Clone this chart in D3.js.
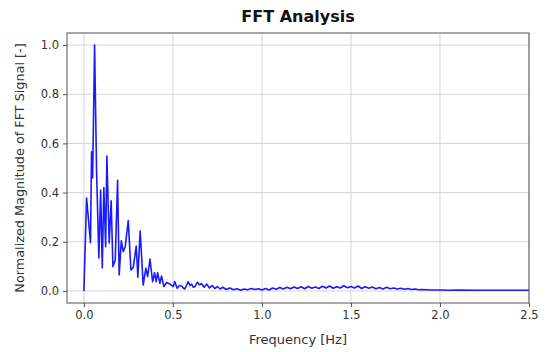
<!DOCTYPE html>
<meta charset="utf-8">
<style>
body { margin: 0; background: #fff; }
text { font-family: "DejaVu Sans", sans-serif; }
.grid line { stroke: #d4d4d4; stroke-width: 1; }
.axis path { display: none; }
.axis line { stroke: #555; }
.axis text { font-size: 11.5px; fill: #333; }
</style>
<body>
<script src="https://cdnjs.cloudflare.com/ajax/libs/d3/7.8.5/d3.min.js"></script>
<script>

// frequency [Hz] and normalized FFT magnitude
var freq = [0.000, 0.015, 0.037, 0.043, 0.049, 0.060, 0.071, 0.084, 0.094, 0.103,
            0.112, 0.122, 0.129, 0.142, 0.153, 0.163, 0.176, 0.189, 0.198, 0.210,
            0.221, 0.232, 0.249, 0.264, 0.277, 0.294, 0.303, 0.316, 0.333, 0.348,
            0.358, 0.371, 0.386, 0.397, 0.406, 0.414, 0.427, 0.436, 0.449, 0.464,
            0.483, 0.502, 0.510, 0.524, 0.537, 0.549, 0.558, 0.567, 0.586, 0.596,
            0.605, 0.614, 0.624, 0.637, 0.650, 0.660, 0.675, 0.690, 0.705, 0.720,
            0.735, 0.750, 0.765, 0.780, 0.800, 0.820, 0.840, 0.860, 0.880, 0.900,
            0.920, 0.940, 0.960, 0.980, 1.000, 1.020, 1.040, 1.060, 1.080, 1.100,
            1.120, 1.140, 1.160, 1.180, 1.200, 1.220, 1.240, 1.260, 1.280, 1.300,
            1.320, 1.340, 1.360, 1.380, 1.400, 1.420, 1.440, 1.460, 1.480, 1.500,
            1.520, 1.540, 1.560, 1.580, 1.600, 1.620, 1.640, 1.660, 1.680, 1.700,
            1.720, 1.740, 1.760, 1.780, 1.800, 1.820, 1.840, 1.860, 1.880, 1.900,
            1.950, 2.000, 2.050, 2.100, 2.200, 2.300, 2.400, 2.500];

var magnitude = [0.000, 0.378, 0.196, 0.566, 0.460, 1.000, 0.490, 0.134, 0.410, 0.094,
                 0.420, 0.180, 0.549, 0.195, 0.367, 0.099, 0.126, 0.450, 0.065, 0.204,
                 0.160, 0.180, 0.286, 0.085, 0.096, 0.183, 0.056, 0.244, 0.024, 0.093,
                 0.058, 0.130, 0.038, 0.074, 0.038, 0.074, 0.031, 0.061, 0.018, 0.034,
                 0.028, 0.018, 0.038, 0.011, 0.022, 0.020, 0.012, 0.008, 0.038, 0.022,
                 0.028, 0.015, 0.018, 0.035, 0.025, 0.030, 0.015, 0.028, 0.012, 0.022,
                 0.010, 0.018, 0.008, 0.015, 0.006, 0.012, 0.005, 0.009, 0.003, 0.008,
                 0.005, 0.010, 0.006, 0.009, 0.004, 0.010, 0.004, 0.012, 0.007, 0.014,
                 0.008, 0.015, 0.009, 0.016, 0.010, 0.017, 0.009, 0.018, 0.011, 0.016,
                 0.010, 0.019, 0.012, 0.020, 0.011, 0.017, 0.012, 0.021, 0.013, 0.018,
                 0.012, 0.020, 0.010, 0.017, 0.011, 0.016, 0.009, 0.014, 0.008, 0.015,
                 0.009, 0.012, 0.008, 0.011, 0.007, 0.010, 0.006, 0.008, 0.005, 0.006,
                 0.004, 0.004, 0.003, 0.004, 0.003, 0.003, 0.003, 0.003];

var xTicks = [0.0, 0.5, 1.0, 1.5, 2.0, 2.5];
var yTicks = [0.0, 0.2, 0.4, 0.6, 0.8, 1.0];

var W = 546, H = 352;
var plot = {left: 67, right: 529, top: 33, bottom: 303};

var svg = d3.select("body").append("svg")
    .attr("width", W)
    .attr("height", H);

var x = d3.scaleLinear().domain([-0.095, 2.5]).range([plot.left, plot.right]);
var y = d3.scaleLinear().domain([-0.049, 1.049]).range([plot.bottom, plot.top]);

// grid
svg.append("g").attr("class", "grid")
  .selectAll("line").data(xTicks).enter().append("line")
    .attr("x1", d => x(d)).attr("x2", d => x(d))
    .attr("y1", plot.top).attr("y2", plot.bottom);
svg.append("g").attr("class", "grid")
  .selectAll("line").data(yTicks).enter().append("line")
    .attr("x1", plot.left).attr("x2", plot.right)
    .attr("y1", d => y(d)).attr("y2", d => y(d));

// the line
var pts = freq.map((f, i) => [f, magnitude[i]]);
svg.append("path")
    .datum(pts)
    .attr("fill", "none")
    .attr("stroke", "#1a1aff")
    .attr("stroke-width", 1.6)
    .attr("stroke-linejoin", "round")
    .attr("d", d3.line().x(d => x(d[0])).y(d => y(d[1])));

// frame
svg.append("rect")
    .attr("x", plot.left).attr("y", plot.top)
    .attr("width", plot.right - plot.left)
    .attr("height", plot.bottom - plot.top)
    .attr("fill", "none")
    .attr("stroke", "#555")
    .attr("stroke-width", 1);

// axes
svg.append("g").attr("class", "axis")
    .attr("transform", "translate(0," + plot.bottom + ")")
    .call(d3.axisBottom(x).tickValues(xTicks).tickFormat(d3.format(".1f")).tickSize(4).tickPadding(4));
svg.append("g").attr("class", "axis")
    .attr("transform", "translate(" + plot.left + ",0)")
    .call(d3.axisLeft(y).tickValues(yTicks).tickFormat(d3.format(".1f")).tickSize(4).tickPadding(4));

// labels
svg.append("text")
    .attr("x", (plot.left + plot.right) / 2).attr("y", 22)
    .attr("text-anchor", "middle")
    .style("font-size", "16px").style("font-weight", "bold").style("fill", "#111")
    .text("FFT Analysis");

svg.append("text")
    .attr("x", (plot.left + plot.right) / 2).attr("y", 344)
    .attr("text-anchor", "middle")
    .style("font-size", "13px").style("fill", "#333")
    .text("Frequency [Hz]");

svg.append("text")
    .attr("transform", "translate(24," + (plot.top + plot.bottom) / 2 + ") rotate(-90)")
    .attr("text-anchor", "middle")
    .style("font-size", "12.8px").style("fill", "#333")
    .text("Normalized Magnitude of FFT Signal [-]");

</script>
</body>
